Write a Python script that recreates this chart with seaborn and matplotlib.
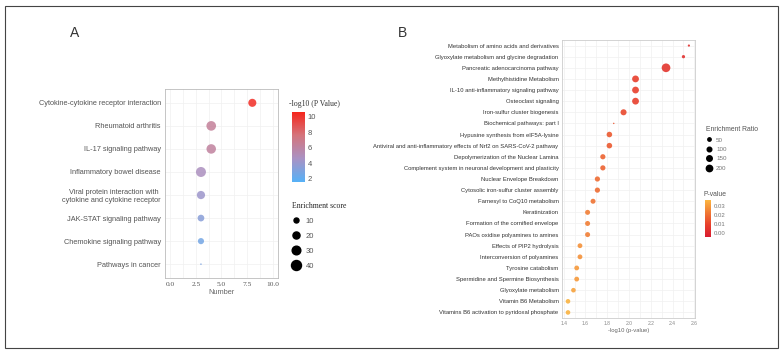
import numpy as np
import pandas as pd
import matplotlib
matplotlib.use("Agg")
import matplotlib.pyplot as plt
import seaborn as sns
from matplotlib.colors import LinearSegmentedColormap, Normalize
from matplotlib.cm import ScalarMappable
from matplotlib.lines import Line2D
from matplotlib.patches import Rectangle

# Panel A: KEGG
pathways_a = [
    "Cytokine-cytokine receptor interaction",
    "Rheumatoid arthritis",
    "IL-17 signaling pathway",
    "Inflammatory bowel disease",
    "Viral protein interaction with \ncytokine and cytokine receptor",
    "JAK-STAT signaling pathway",
    "Chemokine signaling pathway",
    "Pathways in cancer",
]
number_a = [8.0, 4.0, 4.0, 3.0, 3.0, 3.0, 3.0, 3.0]
logp_a = [10.3, 6.4, 6.2, 4.8, 4.2, 3.4, 2.7, 3.0]
score_a = [26, 37, 36, 40, 27, 18, 15, 1]

# Panel B: pathways
pathways_b = [
    "Metabolism of amino acids and derivatives",
    "Glyoxylate metabolism and glycine degradation",
    "Pancreatic adenocarcinoma pathway",
    "Methylhistidine Metabolism",
    "IL-10 anti-inflammatory signaling pathway",
    "Osteoclast signaling",
    "Iron-sulfur cluster biogenesis",
    "Biochemical pathways: part I",
    "Hypusine synthesis from eIF5A-lysine",
    "Antiviral and anti-inflammatory effects of Nrf2 on SARS-CoV-2 pathway",
    "Depolymerization of the Nuclear Lamina",
    "Complement system in neuronal development and plasticity",
    "Nuclear Envelope Breakdown",
    "Cytosolic iron-sulfur cluster assembly",
    "Farnesyl to CoQ10 metabolism",
    "Keratinization",
    "Formation of the cornified envelope",
    "PAOs oxidise polyamines to amines",
    "Effects of PIP2 hydrolysis",
    "Interconversion of polyamines",
    "Tyrosine catabolism",
    "Spermidine and Spermine Biosynthesis",
    "Glyoxylate metabolism",
    "Vitamin B6 Metabolism",
    "Vitamins B6 activation to pyridoxal phosphate",
]
logp_b = [2.55, 2.50, 2.34, 2.06, 2.06, 2.06, 1.95, 1.86, 1.82, 1.82, 1.76, 1.76,
          1.71, 1.71, 1.67, 1.62, 1.62, 1.62, 1.55, 1.55, 1.52, 1.52, 1.49, 1.44, 1.44]
pval_b = [0.0028, 0.0032, 0.0046, 0.0087, 0.0087, 0.0087, 0.0112, 0.0138, 0.0151, 0.0151,
          0.0174, 0.0174, 0.0195, 0.0195, 0.0214, 0.0240, 0.0240, 0.0240, 0.0282, 0.0282,
          0.0302, 0.0302, 0.0324, 0.0363, 0.0363]
ratio_b = [15, 45, 380, 230, 230, 230, 180, 1, 150, 150, 130, 130, 130, 130, 120, 120,
           120, 120, 110, 110, 110, 110, 100, 100, 100]

dfA = pd.DataFrame({"Pathway": pathways_a, "Number": number_a, "logp": logp_a, "score": score_a})
dfB = pd.DataFrame({"Pathway": pathways_b, "logp": logp_b, "p": pval_b, "ratio": ratio_b})

W, H = 783, 354
def px(x0, y0, x1, y1):
    return [x0 / W, 1 - y1 / H, (x1 - x0) / W, (y1 - y0) / H]

sns.set_theme(style="white")
plt.rcParams["font.family"] = ["Liberation Sans", "DejaVu Sans"]

fig = plt.figure(figsize=(W / 100, H / 100), dpi=100)
fig.patches.append(Rectangle((5 / W, 6 / H), 773 / W, 342 / H, transform=fig.transFigure,
                             fill=False, edgecolor="#444444", lw=0.8))

cmapA = LinearSegmentedColormap.from_list("a", ["#56b1f7", "#a992c4", "#d4747c", "#f5261c"])
normA = Normalize(1.6, 10.6)
cmapB = LinearSegmentedColormap.from_list("b", ["#d81c30", "#e8402c", "#f07a34", "#fbb641"])
normB = Normalize(-0.005, 0.037)

def sizeA(v):
    return 52 * v / 40

def sizeB(v):
    return 1.0 + 40.0 * v / 400

# ---- Panel A
axA = fig.add_axes(px(165, 89, 278, 278))
sns.scatterplot(data=dfA, x="Number", y="Pathway", hue="logp", size="score",
                palette=cmapA, hue_norm=normA, sizes=(0, 52), size_norm=(0, 40),
                legend=False, alpha=0.85, edgecolor="none", ax=axA)
axA.set_xlim(-0.5, 10.5)
axA.set_ylim(7.6, -0.6)
axA.set_xticks([0, 2.5, 5, 7.5, 10])
axA.set_xticklabels(["0.0", "2.5", "5.0", "7.5", "10.0"], family="Liberation Serif")
axA.set_xticks([1.25, 3.75, 6.25, 8.75], minor=True)
axA.grid(True, which="both", color="#f0f0f0", lw=0.5)
axA.set_axisbelow(True)
axA.tick_params(axis="both", labelsize=5.3, colors="#555555", length=2, width=0.5, pad=1)
axA.tick_params(axis="x", which="minor", length=0)
axA.set_xlabel("Number", fontsize=5.3, color="#666666", labelpad=1)
axA.set_ylabel("")
for s in axA.spines.values():
    s.set_color("#bbbbbb")
    s.set_linewidth(0.6)
fig.text(70 / W, 1 - 33 / H, "A", fontsize=10, color="#333333", va="center")

caxA = fig.add_axes(px(292, 112, 305, 182))
cbA = fig.colorbar(ScalarMappable(normA, cmapA), cax=caxA, ticks=[2, 4, 6, 8, 10])
cbA.outline.set_visible(False)
caxA.tick_params(length=0, labelsize=5.5, colors="#555555", pad=2)
fig.text(289 / W, 1 - 104 / H, "-log10 (P Value)", fontsize=5.6, family="Liberation Serif",
         color="#333333", va="center")

handlesA = [Line2D([], [], ls="", marker="o", color="black", markersize=np.sqrt(sizeA(v)))
            for v in [10, 20, 30, 40]]
legA = fig.legend(handlesA, ["10", "20", "30", "40"], loc="upper left",
                  bbox_to_anchor=(288 / W, 1 - 198 / H), frameon=False, fontsize=5.5,
                  title="Enrichment score", labelspacing=1.0, handlelength=1.2,
                  handletextpad=0.6, borderpad=0, alignment="left",
                  title_fontproperties={"family": "Liberation Serif", "size": 5.6})
for t in legA.get_texts():
    t.set_color("#555555")

# ---- Panel B
axB = fig.add_axes(px(562, 40, 695, 318))
sns.scatterplot(data=dfB, x="logp", y="Pathway", hue="p", size="ratio",
                palette=cmapB, hue_norm=normB, sizes=(1.0, 41.0), size_norm=(0, 400),
                legend=False, alpha=0.9, edgecolor="none", ax=axB)
axB.set_xlim(1.385, 2.606)
axB.set_ylim(24.5, -0.5)
axB.set_xticks([1.4, 1.6, 1.8, 2.0, 2.2, 2.4, 2.6])
axB.set_xticks([1.5, 1.7, 1.9, 2.1, 2.3, 2.5], minor=True)
axB.grid(True, which="both", color="#f0f0f0", lw=0.5)
axB.set_axisbelow(True)
axB.tick_params(axis="y", labelsize=4.2, colors="#333333", length=1.5, width=0.4, pad=1)
axB.tick_params(axis="x", labelsize=3.6, colors="#888888", length=1.5, width=0.4, pad=1)
axB.tick_params(axis="x", which="minor", length=0)
axB.set_xlabel("-log10 (p-value)", fontsize=4.2, color="#666666", labelpad=1)
axB.set_ylabel("")
for s in axB.spines.values():
    s.set_color("#cccccc")
    s.set_linewidth(0.6)
fig.text(398 / W, 1 - 33 / H, "B", fontsize=10, color="#333333", va="center")

handlesB = [Line2D([], [], ls="", marker="o", color="black", markersize=np.sqrt(sizeB(v)))
            for v in [50, 100, 150, 200]]
legB = fig.legend(handlesB, ["50", "100", "150", "200"], loc="upper left",
                  bbox_to_anchor=(703 / W, 1 - 123 / H), frameon=False, fontsize=4.5,
                  title="Enrichment Ratio", labelspacing=0.65, handlelength=1.0,
                  handletextpad=0.6, borderpad=0, alignment="left",
                  title_fontproperties={"size": 4.9})
legB.get_title().set_color("#555555")
for t in legB.get_texts():
    t.set_color("#777777")

caxB = fig.add_axes(px(705, 200, 711, 237))
cbB = fig.colorbar(ScalarMappable(normB, cmapB), cax=caxB, ticks=[0.0, 0.01, 0.02, 0.03])
cbB.ax.set_yticklabels(["0.00", "0.01", "0.02", "0.03"])
cbB.outline.set_visible(False)
caxB.tick_params(length=0, labelsize=4.3, colors="#777777", pad=2)
fig.text(703 / W, 1 - 195 / H, "P-value", fontsize=4.9, color="#555555", va="center")

fig.savefig("out.png", dpi=100)
